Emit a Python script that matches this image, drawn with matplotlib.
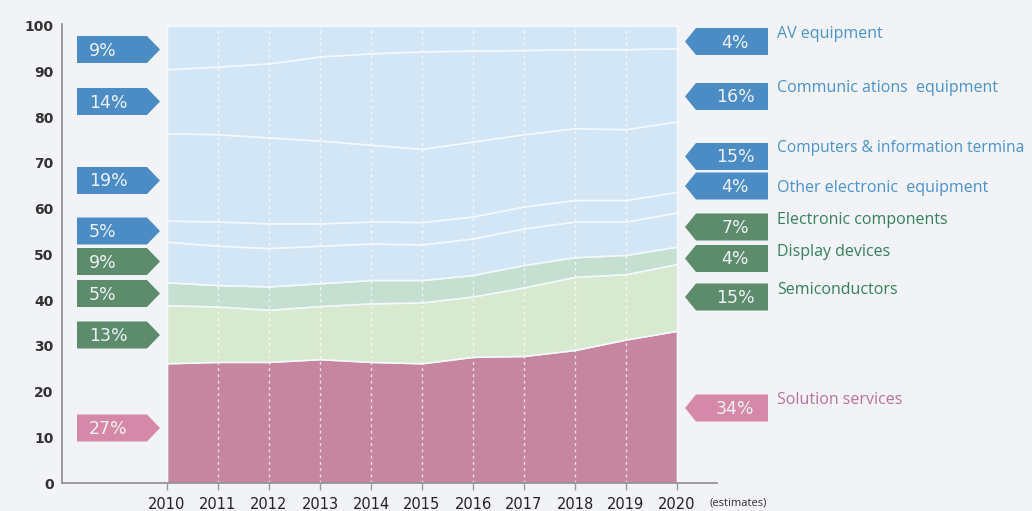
import matplotlib
matplotlib.use("Agg")
from matplotlib import pyplot as plt
from matplotlib.patches import Polygon

# ---------------- dados (parcela de cada segmento, em %) ----------------
anos = [2010, 2011, 2012, 2013, 2014, 2015, 2016, 2017, 2018, 2019, 2020]

solution = [26.2, 26.5, 26.5, 27.1, 26.5, 26.2, 27.6, 27.8, 29.1, 31.4, 33.3]
semis    = [12.7, 12.1, 11.4, 11.6, 12.8, 13.3, 13.2, 15.0, 16.0, 14.3, 14.6]
display  = [5.0, 4.7, 5.1, 5.0, 5.1, 4.9, 4.7, 4.9, 4.3, 4.2, 3.8]
elec     = [8.9, 8.6, 8.4, 8.2, 8.0, 7.8, 8.0, 8.0, 7.8, 7.3, 7.5]
other    = [4.6, 5.3, 5.4, 4.9, 4.8, 4.9, 4.8, 4.8, 4.7, 4.7, 4.5]
computers = [19.1, 19.1, 18.8, 18.1, 16.8, 16.0, 16.4, 15.8, 15.7, 15.5, 15.4]
comm     = [14.0, 14.8, 16.2, 18.4, 20.0, 21.3, 19.9, 18.4, 17.3, 17.5, 16.0]
av       = [9.5, 8.9, 8.2, 6.7, 6.0, 5.6, 5.4, 5.3, 5.1, 5.1, 4.9]

# rotulos (de cima para baixo) - o texto "termina" aparece cortado na figura original
nomes = ["AV equipment", "Communic ations  equipment", "Computers & information termina",
         "Other electronic  equipment", "Electronic components", "Display devices",
         "Semiconductors", "Solution services"]
pct_2010 = ["9%", "14%", "19%", "5%", "9%", "5%", "13%", "27%"]
pct_2020 = ["4%", "16%", "15%", "4%", "7%", "4%", "15%", "34%"]
grupo = ["b", "b", "b", "b", "g", "g", "g", "p"]

# cores
azul_area = "#d3e6f5"
cores_area = ["#c6869f", "#d7e9cf", "#c5dfd0", azul_area, azul_area, azul_area, azul_area, azul_area]
cor_tag = {"b": "#4b8cc5", "g": "#5d8c6c", "p": "#d588a8"}
cor_txt = {"b": "#4a93cb", "g": "#35805a", "p": "#b8729a"}

fig = plt.figure(figsize=(10.32, 5.11), dpi=100, facecolor="#f2f3f7")

# grafico principal
ax = fig.add_axes([62 / 1032, 28 / 511, 655 / 1032, 459 / 511])
ax.set_facecolor("none")
ax.stackplot(anos, solution, semis, display, elec, other, computers, comm, av,
             colors=cores_area, edgecolor="#f3f8fc", linewidth=1.2)
for a in anos[1:-1]:
    ax.plot([a, a], [0, 100], color="white", alpha=0.75, linewidth=1, linestyle=(0, (2, 2.5)))

ax.set_xlim(2010 - 105 / 51, 2020 + 40 / 51)
ax.set_ylim(0, 100.4)
ax.set_yticks(range(0, 101, 10))
ax.set_xticks(anos)
ax.set_xticklabels([str(a) for a in anos], fontsize=10.5, color="#222222")
for lab in ax.get_yticklabels():
    lab.set_fontweight("bold")
ax.tick_params(axis="y", length=0, pad=6, labelsize=10, labelcolor="#333333")
ax.tick_params(axis="x", length=5, width=1, color="#999999", pad=5)
for s in ["top", "right"]:
    ax.spines[s].set_visible(False)
for s in ["left", "bottom"]:
    ax.spines[s].set_color("#8c8c8c")
    ax.spines[s].set_linewidth(1.2)

# camada de rotulos em pixels
ov = fig.add_axes([0, 0, 1, 1])
ov.set_xlim(0, 1032)
ov.set_ylim(511, 0)
ov.axis("off")
ov.patch.set_alpha(0)

ov.text(710, 503, "(estimates)", fontsize=8, color="#333333", ha="left", va="center", family="Open Sans")

y_esq = [49.5, 101.5, 180.5, 231, 261.5, 293.5, 335, 428]
y_dir = [41.5, 96.5, 156.5, 186, 227, 258.5, 297, 408]
y_nome = [34, 88, 148, 188, 220, 252, 290, 400]
h = 27

for i in range(8):
    c = cor_tag[grupo[i]]
    y = y_esq[i]
    ov.add_patch(Polygon([(77, y - h / 2), (147, y - h / 2), (160, y), (147, y + h / 2), (77, y + h / 2)],
                         closed=True, facecolor=c, edgecolor="none"))
    ov.text(89, y + 1, pct_2010[i], color="#eef2f6", fontsize=12.5, ha="left", va="center")
    y = y_dir[i]
    ov.add_patch(Polygon([(685, y), (696, y - h / 2), (768, y - h / 2), (768, y + h / 2), (696, y + h / 2)],
                         closed=True, facecolor=c, edgecolor="none"))
    ov.text(735, y + 1, pct_2020[i], color="#eef2f6", fontsize=12.5, ha="center", va="center")
    ov.text(777, y_nome[i], nomes[i], color=cor_txt[grupo[i]], fontsize=11.5 if i != 2 else 11.2,
            ha="left", va="center", family="Open Sans",
            fontweight="medium" if grupo[i] == "g" else "normal")

fig.savefig("out.png", dpi=100, facecolor=fig.get_facecolor())
